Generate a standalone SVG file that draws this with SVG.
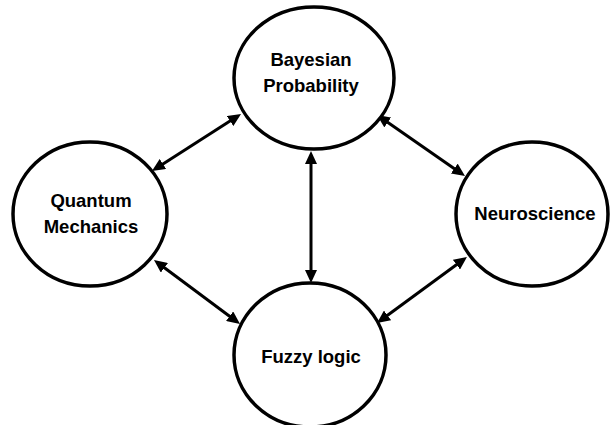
<svg xmlns="http://www.w3.org/2000/svg" width="611" height="425" viewBox="0 0 611 425">
<style>
.node ellipse{fill:#fff;stroke:#000;stroke-width:3.5}
.node text{font-family:"Liberation Sans",Arial,sans-serif;font-weight:bold;font-size:18.5px;fill:#000;text-anchor:middle}
.conn line{stroke:#000;stroke-width:3}
</style>
<defs>
<marker id="ah" viewBox="0 0 13 12" markerWidth="13" markerHeight="12" refX="5" refY="6" orient="auto-start-reverse" markerUnits="userSpaceOnUse">
<path d="M0,0 L13,6 L0,12 z" fill="#000"/>
</marker>
</defs>
<g id="connectors" class="conn">
<line x1="158.7" y1="166.7" x2="234.3" y2="118.3" marker-start="url(#ah)" marker-end="url(#ah)"/>
<line x1="383.6" y1="119.6" x2="458.4" y2="171.4" marker-start="url(#ah)" marker-end="url(#ah)"/>
<line x1="160.4" y1="264.8" x2="233.6" y2="319.2" marker-start="url(#ah)" marker-end="url(#ah)"/>
<line x1="383.5" y1="318.3" x2="460.5" y2="261.7" marker-start="url(#ah)" marker-end="url(#ah)"/>
<line x1="311" y1="159" x2="311" y2="275" marker-start="url(#ah)" marker-end="url(#ah)"/>
</g>
<g id="bayesian" class="node">
<ellipse cx="314" cy="78" rx="80" ry="71"/>
<text x="311" y="66">Bayesian</text>
<text x="311" y="92">Probability</text>
</g>
<g id="quantum" class="node">
<ellipse cx="90" cy="214" rx="77" ry="72"/>
<text x="91" y="207">Quantum</text>
<text x="91" y="233">Mechanics</text>
</g>
<g id="neuroscience" class="node">
<ellipse cx="532" cy="214" rx="76" ry="72"/>
<text x="535" y="220">Neuroscience</text>
</g>
<g id="fuzzy" class="node">
<ellipse cx="310" cy="355" rx="76" ry="72"/>
<text x="311" y="363">Fuzzy logic</text>
</g>
</svg>
